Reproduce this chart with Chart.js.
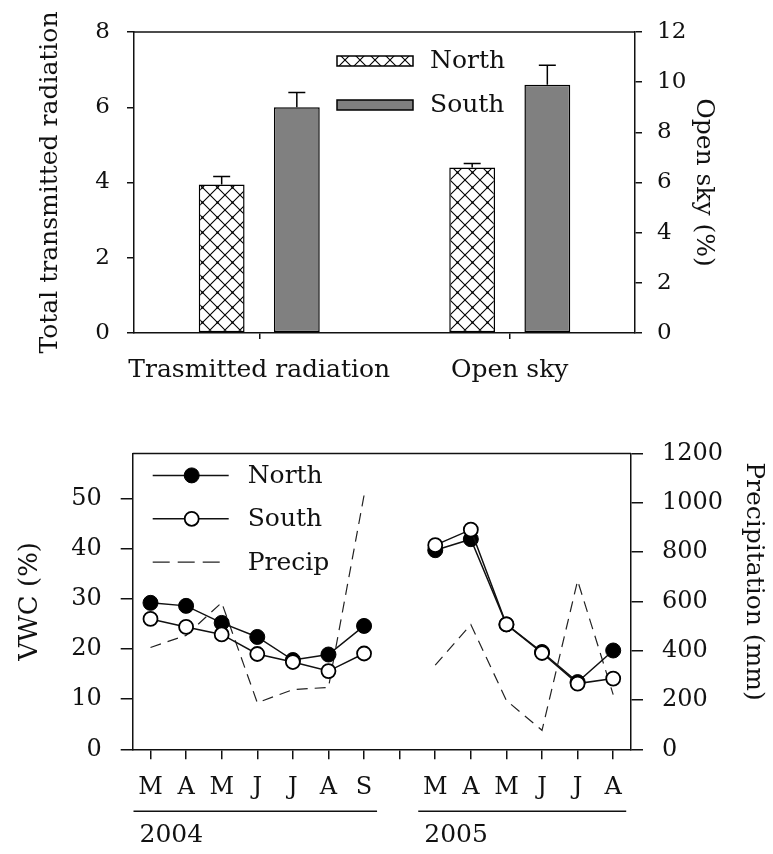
<!DOCTYPE html>
<html>
<head>
<meta charset="utf-8">
<script src="https://cdn.jsdelivr.net/npm/chart.js@4.4.0/dist/chart.umd.min.js"></script>
<style>
  html, body { margin: 0; padding: 0; background: #fff; }
  body { width: 773px; height: 854px; position: relative; overflow: hidden; }
  canvas { position: absolute; left: 0; }
  #radChart { top: 0; }
  #vwcChart { top: 420px; }
</style>
</head>
<body>
<canvas id="radChart" width="773" height="420"></canvas>
<canvas id="vwcChart" width="773" height="434"></canvas>
<script>
// upper panel: transmitted radiation (left axis) and open sky (right axis)
const barCategories = ['Trasmitted radiation', 'Open sky'];
const northBars = [3.95, 6.6];
const northErr = [0.21, 0.16];
const southBars = [6.0, 9.9];
const southErr = [0.39, 0.77];

// lower panel: monthly soil water content and precipitation
const months = ['M', 'A', 'M', 'J', 'J', 'A', 'S', '', 'M', 'A', 'M', 'J', 'J', 'A'];
const vwcNorth = [29.2, 28.6, 25.2, 22.4, 17.8, 18.9, 24.6, null, 39.7, 41.9, 24.9, 19.4, 13.4, 19.7];
const vwcSouth = [26.0, 24.4, 22.9, 19.0, 17.4, 15.6, 19.1, null, 40.7, 43.8, 24.9, 19.2, 13.1, 14.1];
const precip = [413, 462, 595, 189, 242, 251, 1030, null, 341, 506, 198, 77, 684, 222];
const years = ['2004', '2005'];
const yearSpans = [[0, 6], [8, 13]];

const FAMILY = "'DejaVu Serif', serif";
const INK = '#111';
const GREY = '#808080';

// cross-hatch fill for the North bars
function makeHatch() {
  const c = document.createElement('canvas');
  c.width = 15; c.height = 15;
  const g = c.getContext('2d');
  g.fillStyle = '#fff';
  g.fillRect(0, 0, 15, 15);
  g.strokeStyle = '#000';
  g.lineWidth = 1.1;
  g.beginPath();
  for (const k of [-15, 0, 15]) {
    g.moveTo(k - 2, -2); g.lineTo(k + 17, 17);
    g.moveTo(k + 17, -2); g.lineTo(k - 2, 17);
  }
  g.stroke();
  g.fillStyle = '#000';
  g.fillRect(6.5, 6.5, 2, 2);
  return g.createPattern(c, 'repeat');
}
const hatch = makeHatch();

function barSet(label, values, errors, idx, axis, fill) {
  return {
    label: label,
    data: values.map((v, i) => (i === idx ? v : null)),
    errors: errors.map((e, i) => (i === idx ? e : null)),
    yAxisID: axis,
    backgroundColor: fill,
    borderColor: '#000',
    borderWidth: 1.5,
    borderSkipped: false,
    skipNull: true
  };
}

function axisFont(size) {
  return { family: FAMILY, size: size };
}

// top edge of the plot frame
const frame = {
  id: 'frame',
  afterDraw(chart) {
    const { ctx, chartArea: a } = chart;
    ctx.save();
    ctx.strokeStyle = INK;
    ctx.lineWidth = 1.5;
    ctx.beginPath();
    ctx.moveTo(a.left, a.top);
    ctx.lineTo(a.right, a.top);
    ctx.stroke();
    ctx.restore();
  }
};

// upward error whiskers on the bars
const whiskers = {
  id: 'whiskers',
  afterDatasetsDraw(chart) {
    const ctx = chart.ctx;
    ctx.save();
    ctx.strokeStyle = '#000';
    ctx.lineWidth = 1.5;
    chart.data.datasets.forEach((ds, di) => {
      const meta = chart.getDatasetMeta(di);
      const scale = chart.scales[ds.yAxisID];
      meta.data.forEach((bar, i) => {
        if (ds.data[i] == null) return;
        const top = scale.getPixelForValue(ds.data[i] + ds.errors[i]);
        ctx.beginPath();
        ctx.moveTo(bar.x, bar.y);
        ctx.lineTo(bar.x, top);
        ctx.moveTo(bar.x - 8.5, top);
        ctx.lineTo(bar.x + 8.5, top);
        ctx.stroke();
      });
    });
    ctx.restore();
  }
};

const barLegend = {
  id: 'barLegend',
  afterDraw(chart) {
    const { ctx, chartArea: a } = chart;
    const items = [['North', hatch], ['South', GREY]];
    ctx.save();
    ctx.font = '25px ' + FAMILY;
    ctx.textBaseline = 'middle';
    items.forEach(([name, fill], k) => {
      const y = a.top + 29 + k * 44;
      ctx.fillStyle = fill;
      ctx.fillRect(a.left + 203, y - 5, 76, 10);
      ctx.strokeStyle = '#000';
      ctx.lineWidth = 1.5;
      ctx.strokeRect(a.left + 203, y - 5, 76, 10);
      ctx.fillStyle = INK;
      ctx.fillText(name, a.left + 296, y);
    });
    ctx.restore();
  }
};

new Chart(document.getElementById('radChart'), {
  type: 'bar',
  data: {
    labels: barCategories,
    datasets: [
      barSet('North', northBars, northErr, 0, 'y', hatch),
      barSet('South', southBars, southErr, 0, 'y', GREY),
      barSet('North', northBars, northErr, 1, 'y1', hatch),
      barSet('South', southBars, southErr, 1, 'y1', GREY)
    ]
  },
  options: {
    responsive: false,
    animation: false,
    categoryPercentage: 0.6,
    barPercentage: 0.61,
    layout: { padding: { top: 32, left: 0, right: 0, bottom: 0 } },
    plugins: { legend: { display: false }, tooltip: { enabled: false } },
    scales: {
      x: {
        grid: { offset: false, drawOnChartArea: false, tickLength: 6, color: INK, lineWidth: 1.5 },
        border: { color: INK, width: 1.5 },
        ticks: { color: INK, font: axisFont(25), padding: 16, maxRotation: 0, autoSkip: false },
        afterFit: s => { s.height = 87; }
      },
      y: {
        position: 'left',
        min: 0, max: 8,
        grid: { drawOnChartArea: false, tickLength: 7, color: INK, lineWidth: 1.5 },
        border: { color: INK, width: 1.5 },
        ticks: { stepSize: 2, color: INK, font: axisFont(23), padding: 17 },
        title: { display: true, text: 'Total transmitted radiation', color: INK, font: axisFont(25), padding: { top: 35 } },
        afterFit: s => { s.width = 134; }
      },
      y1: {
        position: 'right',
        min: 0, max: 12,
        grid: { drawOnChartArea: false, tickLength: 7, color: INK, lineWidth: 1.5 },
        border: { color: INK, width: 1.5 },
        ticks: { stepSize: 2, color: INK, font: axisFont(23), padding: 15 },
        title: { display: true, text: 'Open sky (%)', color: INK, font: axisFont(25), padding: { top: 55 } },
        afterFit: s => { s.width = 138; }
      }
    }
  },
  plugins: [frame, whiskers, barLegend]
});

// legend with line + marker swatches inside the plot
const lineLegend = {
  id: 'lineLegend',
  afterDraw(chart) {
    const { ctx, chartArea: a } = chart;
    ctx.save();
    ctx.font = '25px ' + FAMILY;
    ctx.textBaseline = 'middle';
    chart.data.datasets.forEach((ds, k) => {
      const y = a.top + 22 + k * 43.4;
      const x0 = a.left + 20, x1 = a.left + 96;
      ctx.strokeStyle = ds.borderColor;
      ctx.lineWidth = ds.borderWidth;
      ctx.setLineDash(ds.borderDash ? [17, 8] : []);
      ctx.beginPath();
      ctx.moveTo(x0, y);
      ctx.lineTo(ds.borderDash ? x1 - 6 : x1, y);
      ctx.stroke();
      ctx.setLineDash([]);
      if (ds.pointRadius > 0) {
        ctx.beginPath();
        ctx.arc(a.left + 59, y, ds.pointRadius, 0, Math.PI * 2);
        ctx.fillStyle = ds.pointBackgroundColor;
        ctx.fill();
        ctx.lineWidth = ds.pointBorderWidth;
        ctx.strokeStyle = ds.pointBorderColor;
        ctx.stroke();
      }
      ctx.fillStyle = INK;
      ctx.fillText(ds.label, a.left + 115, y + 1);
    });
    ctx.restore();
  }
};

// year brackets under the month labels
const yearMarks = {
  id: 'yearMarks',
  afterDraw(chart) {
    const { ctx, chartArea: a } = chart;
    const x = chart.scales.x;
    ctx.save();
    ctx.strokeStyle = INK;
    ctx.lineWidth = 1.5;
    ctx.fillStyle = INK;
    ctx.font = '25px ' + FAMILY;
    ctx.textBaseline = 'middle';
    years.forEach((yr, k) => {
      const left = x.getPixelForValue(yearSpans[k][0]) - 17;
      const right = x.getPixelForValue(yearSpans[k][1]) + 13;
      ctx.beginPath();
      ctx.moveTo(left, a.bottom + 62);
      ctx.lineTo(right, a.bottom + 62);
      ctx.stroke();
      ctx.fillText(yr, left + 6, a.bottom + 86);
    });
    ctx.restore();
  }
};

new Chart(document.getElementById('vwcChart'), {
  type: 'line',
  data: {
    labels: months,
    datasets: [
      {
        label: 'North', data: vwcNorth, yAxisID: 'y',
        borderColor: INK, borderWidth: 1.5,
        pointRadius: 7.5, pointBackgroundColor: '#000', pointBorderColor: '#000', pointBorderWidth: 1,
        order: 1
      },
      {
        label: 'South', data: vwcSouth, yAxisID: 'y',
        borderColor: INK, borderWidth: 1.5,
        pointRadius: 7, pointBackgroundColor: '#fff', pointBorderColor: '#000', pointBorderWidth: 1.8,
        order: 0
      },
      {
        label: 'Precip', data: precip, yAxisID: 'y1',
        borderColor: '#222', borderWidth: 1.2, borderDash: [11, 7],
        pointRadius: 0,
        order: 2
      }
    ]
  },
  options: {
    responsive: false,
    animation: false,
    spanGaps: false,
    elements: { line: { tension: 0 } },
    layout: { padding: { top: 27, left: 0, right: 0, bottom: 0 } },
    plugins: { legend: { display: false }, tooltip: { enabled: false } },
    scales: {
      x: {
        offset: true,
        grid: { offset: false, drawOnChartArea: false, tickLength: 10, color: INK, lineWidth: 1.5 },
        border: { color: INK, width: 1.5 },
        ticks: { color: INK, font: axisFont(24), padding: 14, autoSkip: false, maxRotation: 0 },
        afterFit: s => { s.height = 104.7; }
      },
      y: {
        position: 'left',
        min: 0, max: 59,
        grid: { drawOnChartArea: false, tickLength: 12, color: INK, lineWidth: 1.5 },
        border: { color: INK, width: 1.5 },
        ticks: { stepSize: 10, includeBounds: false, color: INK, font: axisFont(24), padding: 19 },
        title: { display: true, text: 'VWC (%)', color: INK, font: axisFont(26), padding: { top: 15 } },
        afterFit: s => { s.width = 132.7; }
      },
      y1: {
        position: 'right',
        min: 0, max: 1200,
        grid: { drawOnChartArea: false, tickLength: 12, color: INK, lineWidth: 1.5 },
        border: { color: INK, width: 1.5 },
        ticks: { stepSize: 200, color: INK, font: axisFont(24), padding: 19, callback: v => String(v) },
        title: { display: true, text: 'Precipitation (mm)     ', color: INK, font: axisFont(25), padding: { top: 5 } },
        afterFit: s => { s.width = 142; }
      }
    }
  },
  plugins: [frame, lineLegend, yearMarks]
});
</script>
</body>
</html>
